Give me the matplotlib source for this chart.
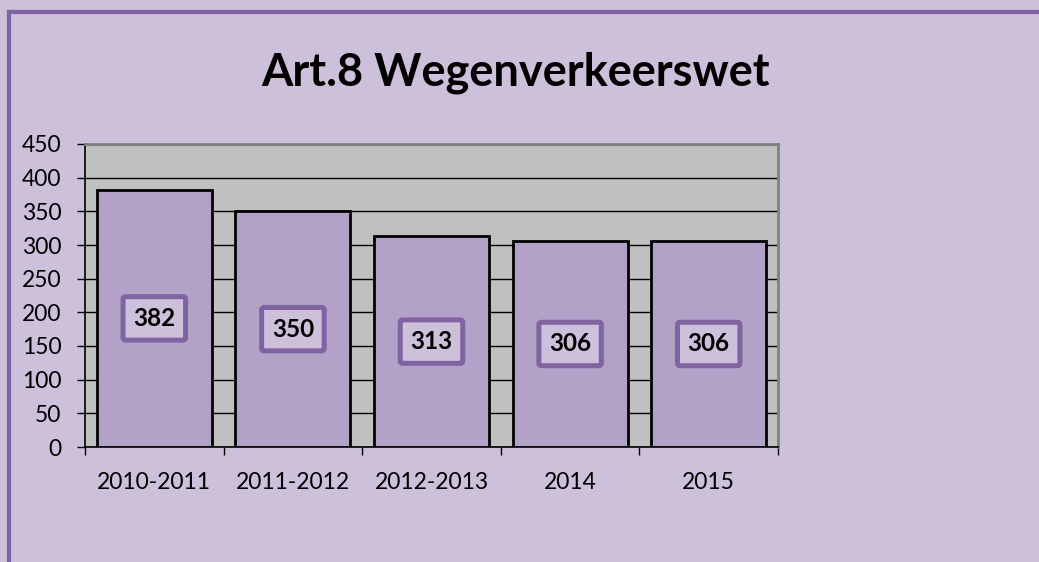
import matplotlib
matplotlib.use("Agg")
import matplotlib.pyplot as plt
from matplotlib.lines import Line2D

categories = ["2010-2011", "2011-2012", "2012-2013", "2014", "2015"]
values = [382, 350, 313, 306, 306]
yticks = [0, 50, 100, 150, 200, 250, 300, 350, 400, 450]
title = "Art.8 Wegenverkeerswet"

BG = "#ccc0da"
BORDER = "#8064a2"
BAR = "#b3a2c7"
PLOT_BG = "#c0c0c0"

plt.rcParams['font.family'] = ['Lato', 'DejaVu Sans']

fig = plt.figure(figsize=(10.39, 5.62), dpi=100)
fig.patch.set_facecolor(BG)

W, H = 1039, 562
# figure border (left and top visible)
bx = 8.5 / W
by = 1 - 11.5 / H
fig.add_artist(Line2D([bx, bx], [0, by], transform=fig.transFigure,
                      color=BORDER, linewidth=3, solid_capstyle="projecting"))
fig.add_artist(Line2D([bx, 1], [by, by], transform=fig.transFigure,
                      color=BORDER, linewidth=3, solid_capstyle="projecting"))

ax = fig.add_axes([85 / W, 1 - 447 / H, (778 - 85) / W, (447 - 144) / H])
ax.set_facecolor(PLOT_BG)

x = list(range(len(categories)))
ax.bar(x, values, width=0.83, color=BAR, edgecolor="black", linewidth=2, zorder=3)

ax.set_xlim(-0.5, len(categories) - 0.5)
ax.set_ylim(0, 450)
ax.set_yticks(yticks)
ax.set_yticklabels([str(v) for v in yticks], fontsize=16.5)
ax.yaxis.grid(True, color="black", linewidth=1, zorder=0)
ax.set_axisbelow(True)

ax.set_xticks(x)
ax.set_xticklabels(categories, fontsize=16.5)
ax.tick_params(axis="x", which="major", length=0, pad=18)
ax.set_xticks([i - 0.5 for i in range(len(categories) + 1)], minor=True)
ax.tick_params(axis="x", which="minor", length=6, width=1, direction="out", color="black")
ax.tick_params(axis="y", length=6, width=1, direction="out", color="black", pad=11)

for s in ["top", "right"]:
    ax.spines[s].set_color("#808080")
    ax.spines[s].set_linewidth(2)
for s in ["left", "bottom"]:
    ax.spines[s].set_color("black")
    ax.spines[s].set_linewidth(1.2)

for xi, v in zip(x, values):
    ax.text(xi, v / 2, str(v), ha="center", va="center", fontsize=17.5,
            fontweight="bold", zorder=5,
            bbox=dict(boxstyle="round,pad=0.42,rounding_size=0.1",
                      facecolor=BG, edgecolor=BORDER, linewidth=3.6))

fig.text(0.496, 0.870, title, ha="center", va="center", fontsize=32.5,
         fontweight="bold")

fig.savefig("out.png", dpi=100, facecolor=BG)
